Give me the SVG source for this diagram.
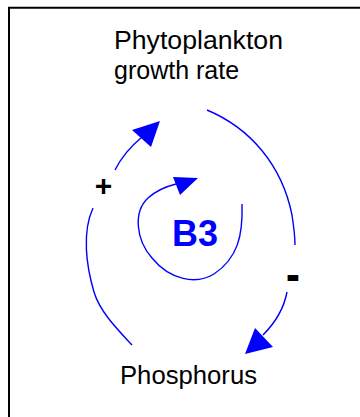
<svg xmlns="http://www.w3.org/2000/svg" width="360" height="417" viewBox="0 0 360 417">
<style>
.lbl{font-family:"Liberation Sans",Arial,sans-serif;font-size:25px;fill:#000}
.link{fill:none;stroke:#0000FF;stroke-width:1.4}
.head{fill:#0000FF;stroke:none}
.pol{font-family:"Liberation Sans",Arial,sans-serif;font-weight:bold;fill:#000;text-anchor:middle}
</style>
<rect width="360" height="417" fill="#fff"/>
<path d="M9 417 V7.7 H360" fill="none" stroke="#000" stroke-width="2"/>
<g id="phyto">
<text class="lbl" x="114" y="48.5" textLength="169" lengthAdjust="spacingAndGlyphs">Phytoplankton</text>
<text class="lbl" x="114" y="79">growth rate</text>
</g>
<g id="phosphorus">
<text class="lbl" x="120" y="384" textLength="137" lengthAdjust="spacingAndGlyphs">Phosphorus</text>
</g>
<g id="b3">
<text x="172" y="246" font-family="Liberation Sans,Arial,sans-serif" font-weight="bold" font-size="36" fill="#0000FF">B3</text>
</g>
<g id="connectors">
<path class="link" d="M132 345 C118 330 100 312 94 292 C86 265 82 232 93 208"/>
<path class="link" d="M115 170 C121 158 130 147 142 137"/>
<polygon class="head" points="160,121 132,130 151,147"/>
<path class="link" d="M207 110 C250 128 282 165 292 215 C294 228 295 238 295 245"/>
<path class="link" d="M287 292 C284 308 276 322 263 335"/>
<polygon class="head" points="245,354 255,328 273,347"/>
<path class="link" d="M242 204 C243 235 238 258 214 274 C196 285 170 280 152 258 C136 240 133 212 148 198 C158 189 168 186 176 184"/>
<polygon class="head" points="198,178 173,177 180,195"/>
<text class="pol" x="103.5" y="196" font-size="30">+</text>
<text class="pol" x="293" y="287" font-size="34" stroke="#000" stroke-width="2">-</text>
</g>
</svg>
